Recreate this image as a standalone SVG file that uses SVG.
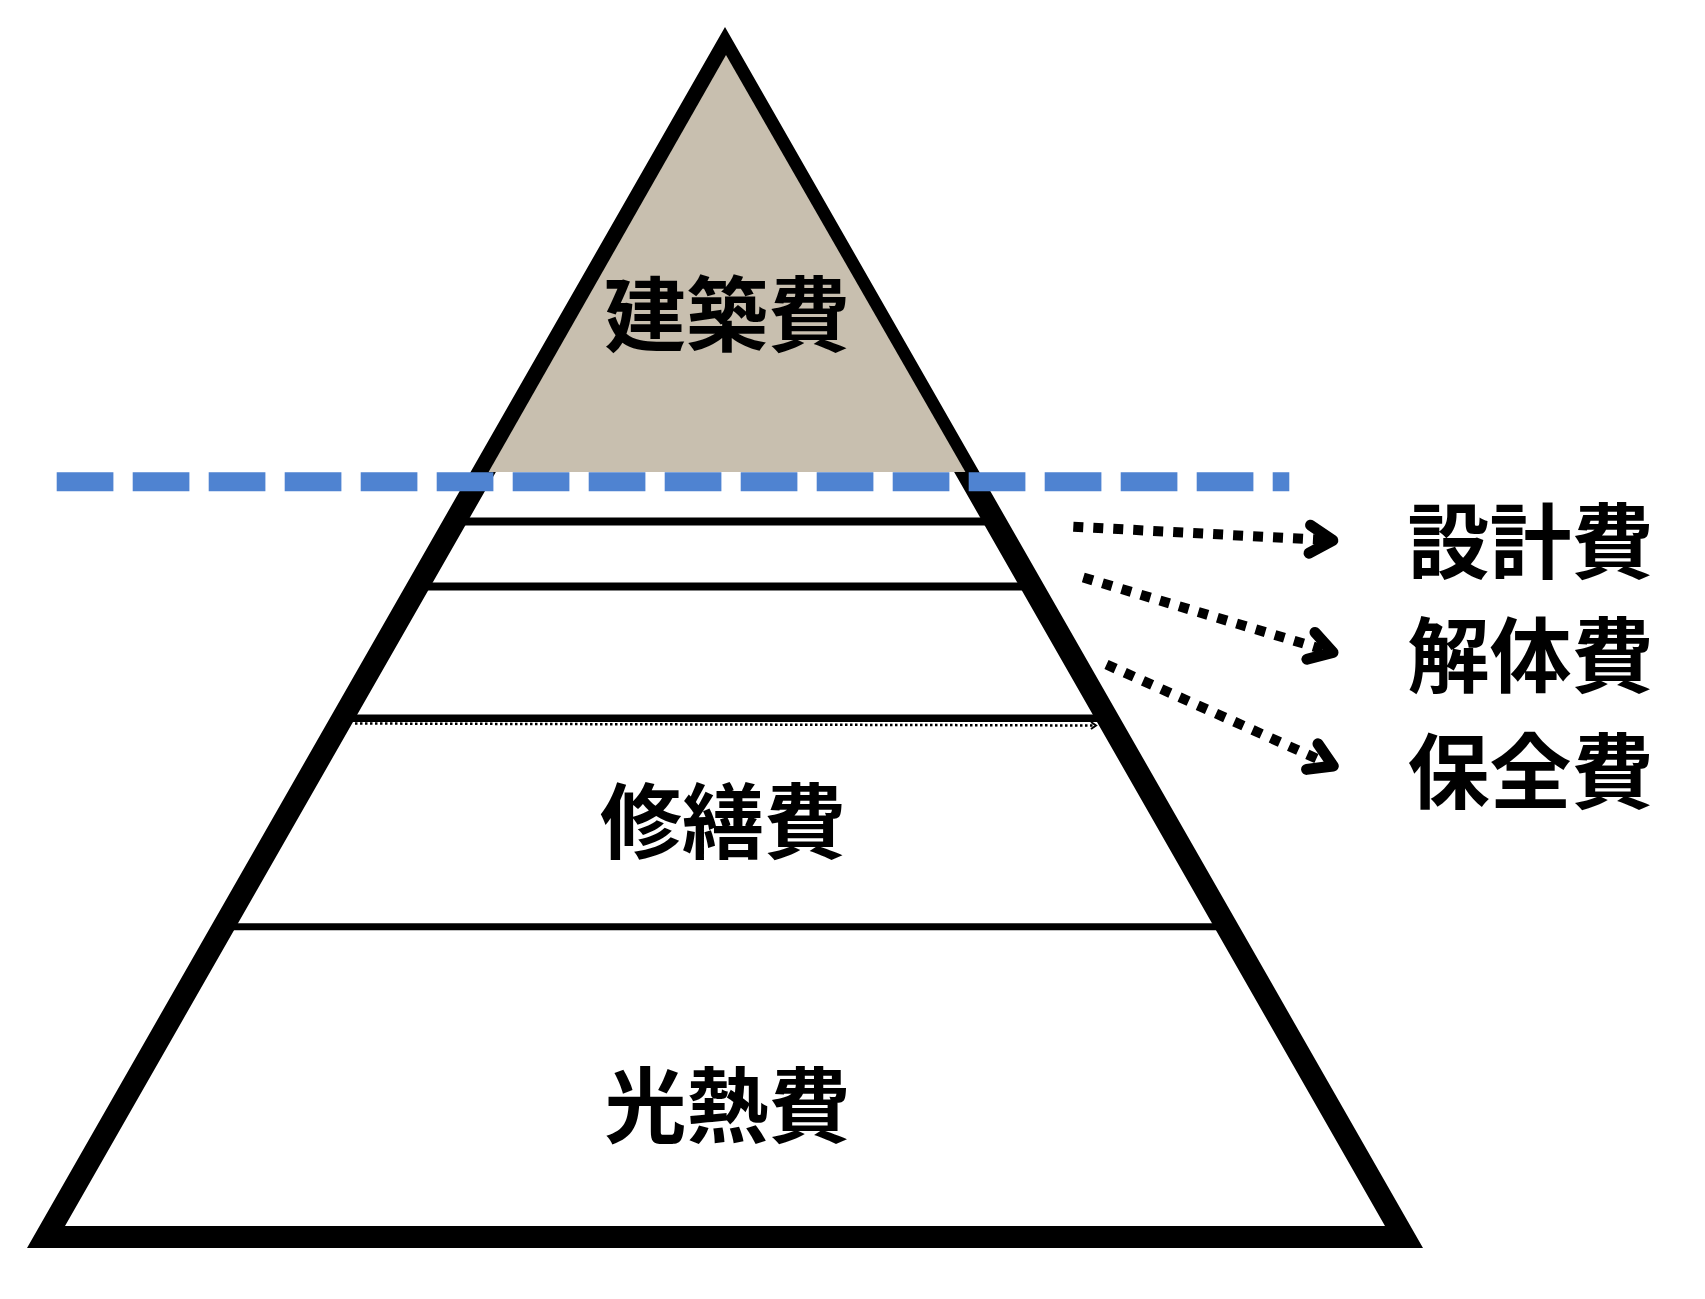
<svg xmlns="http://www.w3.org/2000/svg" width="1705" height="1299" viewBox="0 0 1705 1299">
<style>
.lbl{font-family:"Noto Sans CJK JP","Noto Sans CJK SC",sans-serif;font-weight:700;font-size:82px;fill:#000;text-anchor:middle}
.sep{stroke:#000;fill:none}
.dot{stroke:#000;stroke-width:10;stroke-dasharray:10 10;fill:none}
</style>
<defs>
<marker id="chev" markerUnits="userSpaceOnUse" markerWidth="60" markerHeight="60" refX="0" refY="0" viewBox="-40 -30 60 60" orient="auto" overflow="visible">
<path d="M-23,-14 L0,0 L-23,14" fill="none" stroke="#000" stroke-width="11" stroke-linecap="round" stroke-linejoin="round"/>
</marker>
<marker id="tiny" markerUnits="userSpaceOnUse" markerWidth="12" markerHeight="12" refX="0" refY="0" viewBox="-8 -6 12 12" orient="auto" overflow="visible">
<path d="M-5,-3.5 L0,0 L-5,3.5" fill="none" stroke="#000" stroke-width="2"/>
</marker>
</defs>
<rect width="1705" height="1299" fill="#fff"/>
<g id="pyramid">
<polygon points="725,71 1385,1226 65,1226" fill="#fff"/>
<line class="sep" x1="455" y1="521.5" x2="995" y2="521.5" stroke-width="8"/>
<line class="sep" x1="415" y1="586.5" x2="1035" y2="586.5" stroke-width="8"/>
<line class="sep" x1="340" y1="718.3" x2="1110" y2="718.3" stroke-width="7.5"/>
<line class="sep" x1="220" y1="926.7" x2="1230" y2="926.7" stroke-width="7"/>
<path d="M725,27 L27,1248 L1423,1248 Z M725,71 L1385,1226 L65,1226 Z" fill="#000" fill-rule="evenodd"/>
<polygon points="726,55 965.4,472 488.6,472" fill="#C8BFAF"/>
</g>
<g id="threshold">
<line x1="56.7" y1="481.7" x2="1289.3" y2="481.7" stroke="#4F83D1" stroke-width="19" stroke-dasharray="56.7 19.3"/>
</g>
<g id="connectors">
<line x1="355" y1="723.5" x2="1096" y2="725.5" stroke="#000" stroke-width="2.5" stroke-dasharray="2.5 2.5" marker-end="url(#tiny)"/>
<line class="dot" x1="1073.3" y1="526.7" x2="1332.8" y2="540.4" marker-end="url(#chev)"/>
<line class="dot" x1="1083.3" y1="577.5" x2="1333" y2="652.4" marker-end="url(#chev)"/>
<line class="dot" x1="1106.5" y1="664.5" x2="1333.3" y2="766" marker-end="url(#chev)"/>
</g>
<g id="node-kenchiku"><text class="lbl" x="727" y="345">建築費</text></g>
<g id="node-shuzen"><text class="lbl" x="723" y="852">修繕費</text></g>
<g id="node-konetsu"><text class="lbl" x="727.5" y="1136">光熱費</text></g>
<g id="node-sekkei"><text class="lbl" x="1530.5" y="572">設計費</text></g>
<g id="node-kaitai"><text class="lbl" x="1530.5" y="686">解体費</text></g>
<g id="node-hozen"><text class="lbl" x="1530.5" y="802">保全費</text></g>
</svg>
